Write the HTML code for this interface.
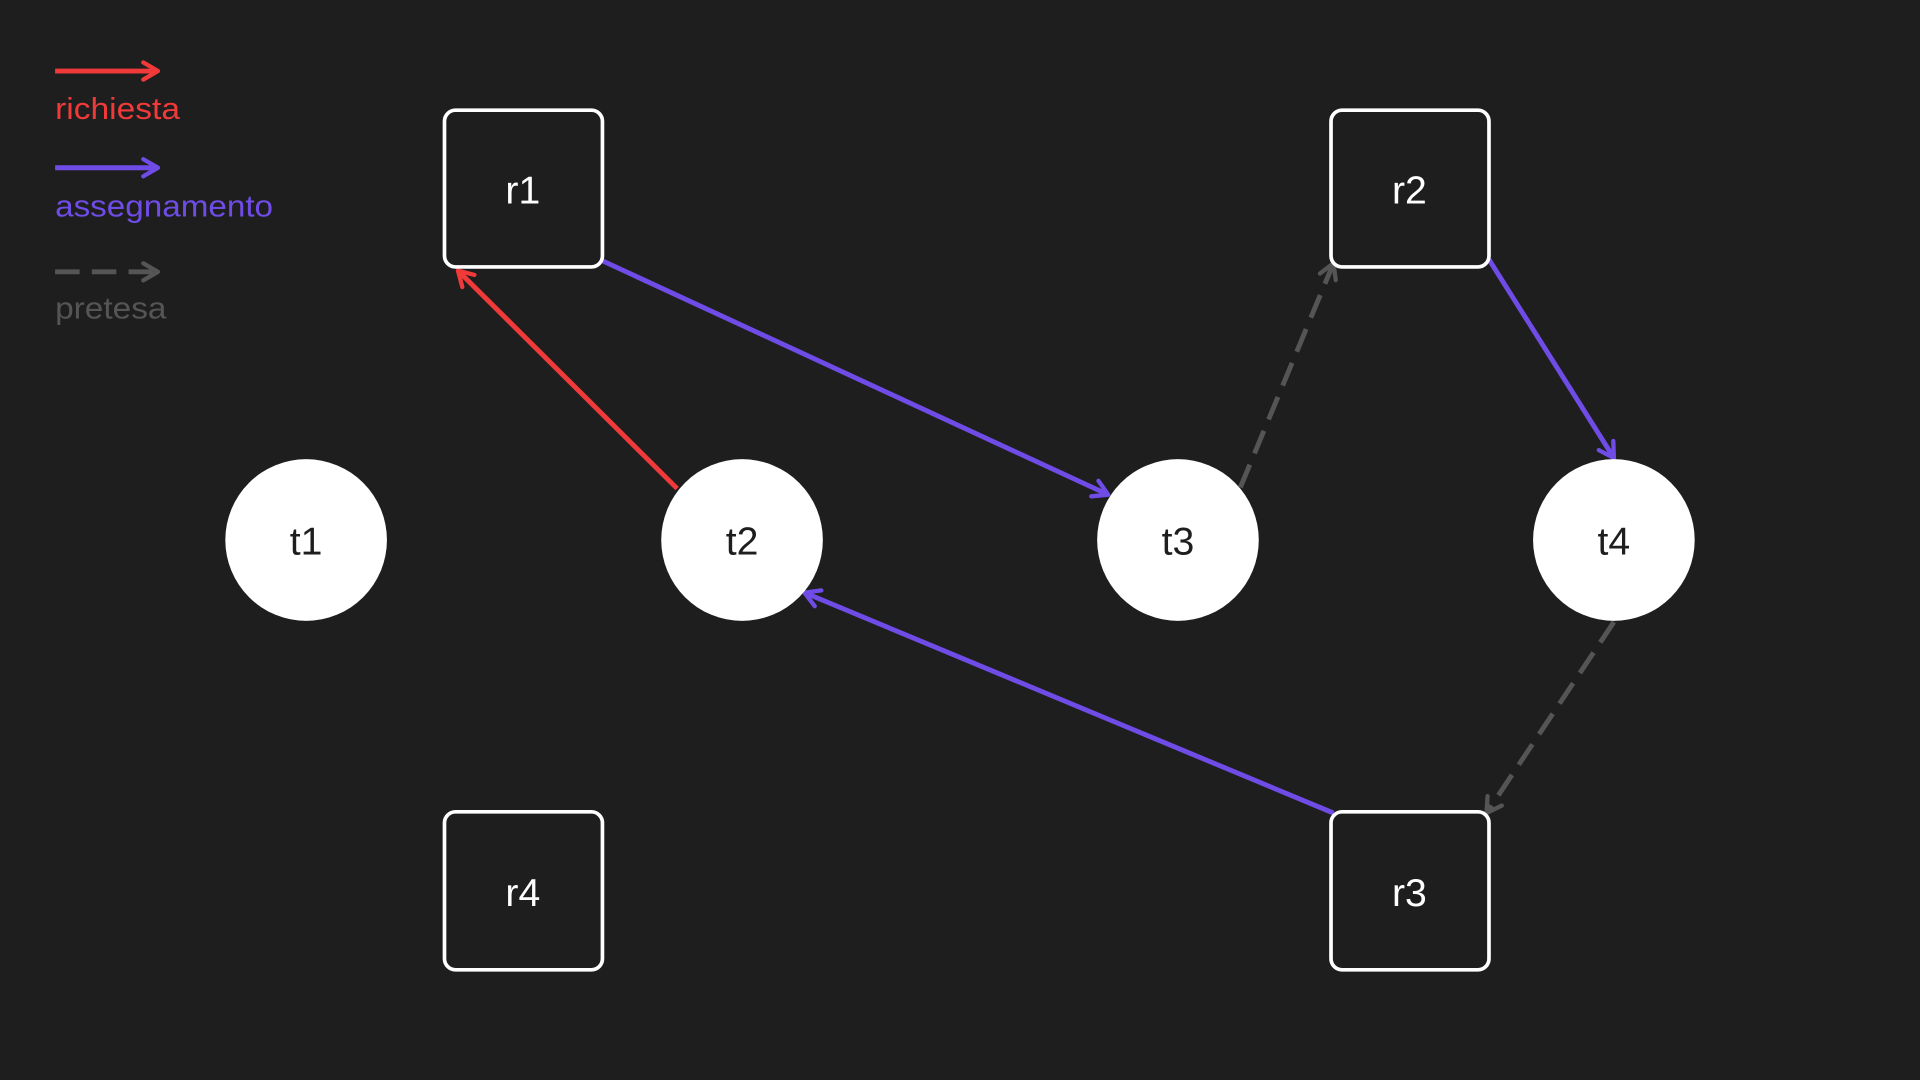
<!DOCTYPE html>
<html><head><meta charset="utf-8"><style>
html,body{margin:0;padding:0;background:#1e1e1e;width:1920px;height:1080px;overflow:hidden}
svg{display:block}
text{font-family:"Liberation Sans",sans-serif}
</style></head><body>
<svg width="1920" height="1080" viewBox="0 0 1568 882" xmlns="http://www.w3.org/2000/svg">
<defs>
<marker id="mr" viewBox="0 0 20 20" refX="16" refY="10" markerWidth="5" markerHeight="5" orient="auto" markerUnits="strokeWidth"><path d="M4 3 L16 10 L4 17" fill="none" stroke="#f03a3a" stroke-width="3.5" stroke-linecap="round" stroke-linejoin="round"/></marker>
<marker id="mp" viewBox="0 0 20 20" refX="16" refY="10" markerWidth="5" markerHeight="5" orient="auto" markerUnits="strokeWidth"><path d="M4 3 L16 10 L4 17" fill="none" stroke="#6f4ce6" stroke-width="3.5" stroke-linecap="round" stroke-linejoin="round"/></marker>
<marker id="mg" viewBox="0 0 20 20" refX="16" refY="10" markerWidth="5" markerHeight="5" orient="auto" markerUnits="strokeWidth"><path d="M4 3 L16 10 L4 17" fill="none" stroke="#555" stroke-width="3.5" stroke-linecap="round" stroke-linejoin="round"/></marker>
</defs>
<rect width="1568" height="882" fill="#1e1e1e"/>
<!-- legend -->
<line x1="45" y1="58" x2="129" y2="58" stroke="#f03a3a" stroke-width="4" marker-end="url(#mr)"/>
<text x="45" y="97" font-size="25" fill="#f03a3a" textLength="102" lengthAdjust="spacingAndGlyphs">richiesta</text>
<line x1="45" y1="137" x2="129" y2="137" stroke="#6f4ce6" stroke-width="4" marker-end="url(#mp)"/>
<text x="45" y="177" font-size="25" fill="#6f4ce6" textLength="178" lengthAdjust="spacingAndGlyphs">assegnamento</text>
<line x1="45" y1="222" x2="129" y2="222" stroke="#555" stroke-width="4" stroke-dasharray="20,10" marker-end="url(#mg)"/>
<text x="45" y="260" font-size="25" fill="#555" textLength="91" lengthAdjust="spacingAndGlyphs">pretesa</text>
<!-- edges -->
<line x1="553" y1="399" x2="374" y2="221" stroke="#f03a3a" stroke-width="4" marker-end="url(#mr)"/>
<line x1="492" y1="213" x2="905" y2="404" stroke="#6f4ce6" stroke-width="4" marker-end="url(#mp)"/>
<line x1="1013" y1="398" x2="1089" y2="215" stroke="#555" stroke-width="4" stroke-dasharray="20,10" marker-end="url(#mg)"/>
<line x1="1216" y1="212" x2="1318" y2="374" stroke="#6f4ce6" stroke-width="4" marker-end="url(#mp)"/>
<line x1="1318" y1="508" x2="1214" y2="664" stroke="#555" stroke-width="4" stroke-dasharray="20,10" marker-end="url(#mg)"/>
<line x1="1089" y1="664" x2="657" y2="484" stroke="#6f4ce6" stroke-width="4" marker-end="url(#mp)"/>
<!-- boxes -->
<g fill="#1e1e1e" stroke="#fff" stroke-width="3">
<rect x="363" y="90" width="129" height="128" rx="9"/>
<rect x="1087" y="90" width="129" height="128" rx="9"/>
<rect x="363" y="663" width="129" height="129" rx="9"/>
<rect x="1087" y="663" width="129" height="129" rx="9"/>
</g>
<g fill="#fff">
<circle cx="250" cy="441" r="66"/>
<circle cx="606" cy="441" r="66"/>
<circle cx="962" cy="441" r="66"/>
<circle cx="1318" cy="441" r="66"/>
</g>
<g font-size="32" text-anchor="middle">
<text x="427" y="166" fill="#fff">r1</text>
<text x="1151" y="166" fill="#fff">r2</text>
<text x="427" y="740" fill="#fff">r4</text>
<text x="1151" y="740" fill="#fff">r3</text>
<text x="250" y="453" fill="#1e1e1e">t1</text>
<text x="606" y="453" fill="#1e1e1e">t2</text>
<text x="962" y="453" fill="#1e1e1e">t3</text>
<text x="1318" y="453" fill="#1e1e1e">t4</text>
</g>
</svg>
</body></html>
